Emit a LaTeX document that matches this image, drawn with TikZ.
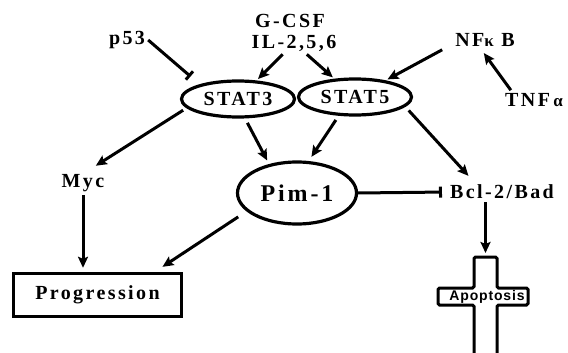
\documentclass[tikz,border=0pt]{standalone}
\usepackage{fontspec}
\newfontfamily\serifls[LetterSpace=12]{Liberation Serif}
\newfontfamily\sansls[LetterSpace=6]{Liberation Sans}
\newcommand\lbl{\serifls\bfseries\fontsize{20}{23}\selectfont}
\newcommand\grk{\fontsize{17}{19}\selectfont}
\usetikzlibrary{positioning, shapes, arrows.meta}
\tikzset{
    word/.style = {font=\lbl, inner sep=3pt},
    state/.style = {draw, ellipse, font=\lbl, line width=3.2pt, minimum width=113pt, minimum height=36pt, inner sep=0pt},
    tip/.style = {line width=3pt, -{Stealth[length=11pt, width=10pt, inset=2pt]}},
    inhib/.style = {line width=3pt, -{Bar[width=11pt]}}
}

\begin{document}
\begin{tikzpicture}
        [
            x = 1pt, y = -1pt
        ]
        \useasboundingbox (0,0) rectangle (568,353);
        \node[word]     (p53)   at (127,40)   {p53};
        \node[word]     (gcsf)  at (290,21)   {G-CSF};
        \node[word]     (il)    at (294,43)   {IL-2,5,6};
        \node[word]     (nfkb)  at (485,40)   {NF{\grk κ}\ B};
        \node[word]     (tnf)   at (534,100)  {TNF\,{\grk α}};
        \node[state]    (stat3) at (238,99)   {STAT3};
        \node[state]    (stat5) at (355,97)   {STAT5};
        \node[state, minimum width = 119pt, minimum height = 62pt, font = \lbl\fontsize{24}{27}\selectfont] (pim) at (297,193) {Pim-1};
        \node[word]     (myc)   at (83,183)   {Myc};
        \node[word]     (bcl)   at (502,192)  {Bcl-2/Bad};
        \node[word, draw, line width = 3.4pt, minimum width = 168pt, minimum height = 43pt] (prog) at (97.5,295) {Progression};
        % cross
        \coordinate (crosstop) at (485.5,257);
        \draw[line width = 3pt, rounded corners = 1.5pt] (474,353) |- (438,305) |- (474,288) |- (497,257) |- (528,288) |- (497,305) -- (497,353);
        \node[font = \sansls\bfseries\fontsize{14}{16}\selectfont, inner sep = 0pt] (apop) at (487,297) {Apoptosis};
        % arrows
        \draw[inhib, shorten >= 12pt]                (p53.east)  -- (stat3.159);
        \draw[tip, shorten >= 2pt]                   (il)        -- (stat3);
        \draw[tip, shorten >= 2pt]                   (il)        -- (stat5);
        \draw[tip, shorten >= 2pt]                   ([xshift=-10pt]nfkb.south west) -- (stat5);
        \draw[tip, shorten >= 4pt]                   (tnf.157)   -- (nfkb.250);
        \draw[tip, shorten <= 4pt, shorten >= 10pt]  (stat3.190) -- (myc.70);
        \draw[tip, shorten <= 5pt, shorten >= 4pt]   (stat3.-70) -- (pim.134);
        \draw[tip, shorten <= 5pt, shorten >= 5pt]   (stat5.229) -- (pim.70);
        \draw[tip, shorten <= 5pt, shorten >= 8pt]   (stat5.-11) -- (bcl.160);
        \draw[inhib, shorten >= 5pt]                 (pim.east)  -- (bcl.west);
        \draw[tip, shorten >= 4pt]                   (myc.south) -- (myc.south |- prog.north);
        \draw[tip, shorten <= 10pt, shorten >= 9pt]  (pim.200)   -- (prog.22);
        \draw[tip, shorten >= 4pt]                   (bcl.south -| crosstop) -- (crosstop);
\end{tikzpicture}
\end{document}
